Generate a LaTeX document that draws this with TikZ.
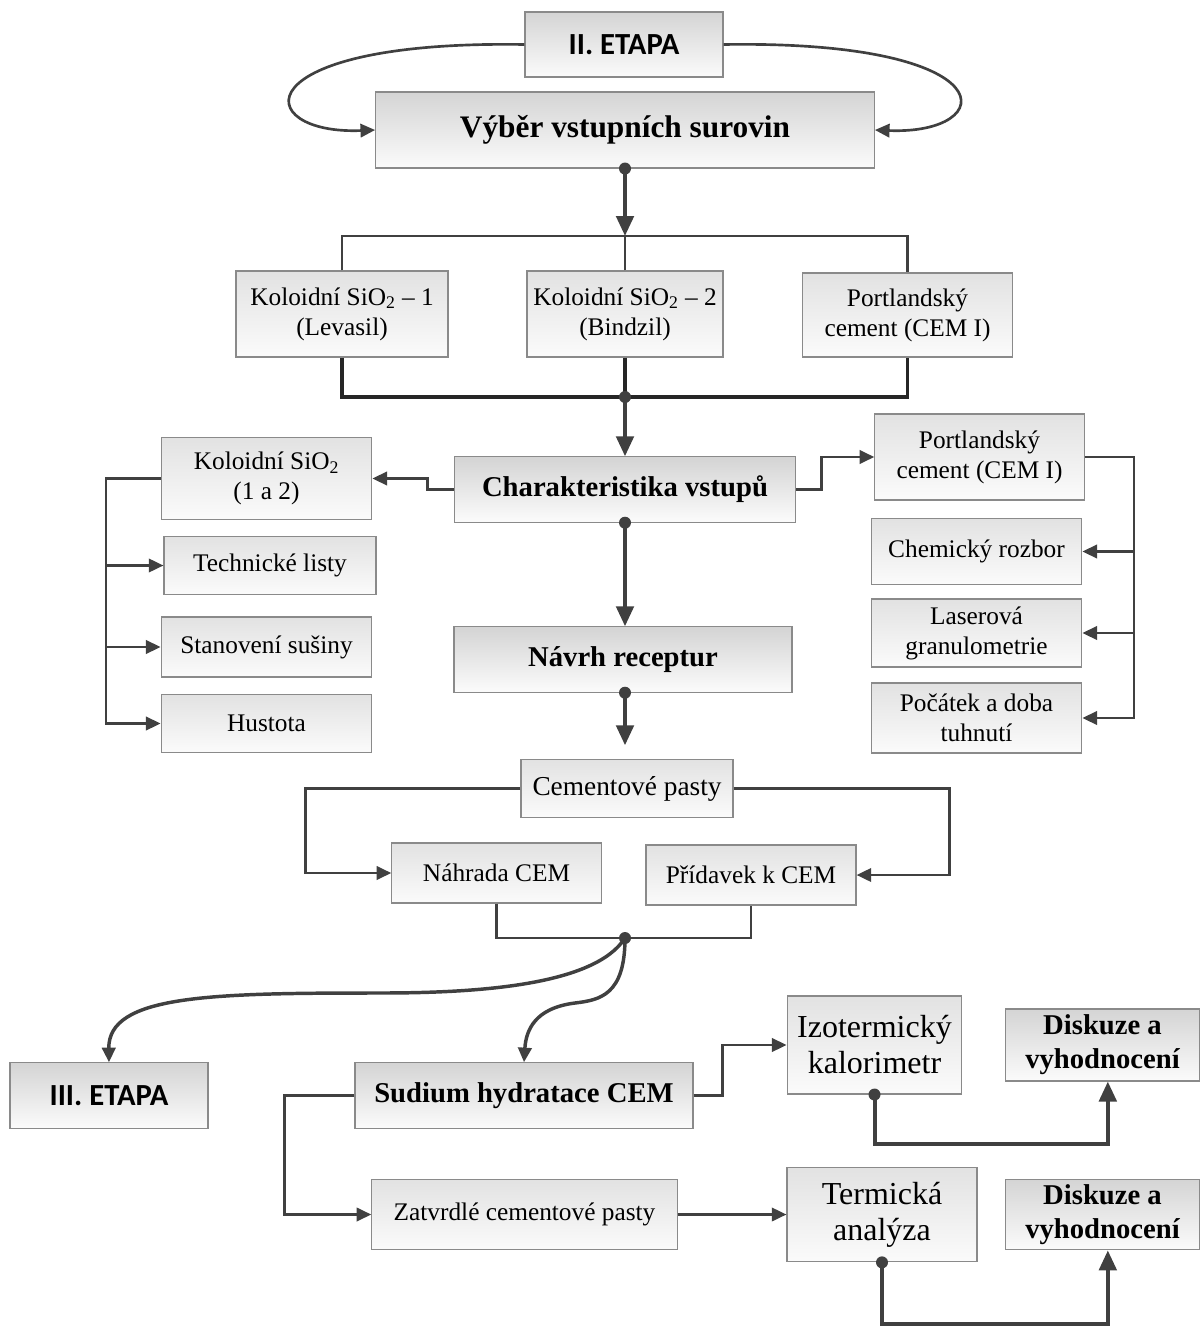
\documentclass[tikz,border=0pt]{standalone}
\usepackage{fontspec}
\setmainfont{Liberation Serif}
\newfontfamily\etapafont{Carlito}
\usepackage{tikz}
\usetikzlibrary{arrows.meta}
\usetikzlibrary{positioning}
\definecolor{linegray}{HTML}{404040}
\definecolor{boxgray}{HTML}{8A8A8A}
\definecolor{boxtop}{HTML}{E2E2E2}
\definecolor{titletop}{HTML}{D4D4D4}
\definecolor{boxbottom}{HTML}{FBFBFB}
\tikzstyle{plain_box} = [
    draw=boxgray, 
    line width=0.8pt, 
    top color=boxtop, 
    bottom color=boxbottom, 
    align=center, 
    inner sep=2pt, 
    font=\fontsize{19}{22.5}\selectfont
]
\tikzstyle{big_box} = [
    plain_box, 
    font=\fontsize{24}{27}\selectfont
]
\tikzstyle{title_box} = [
    plain_box, 
    top color=titletop, 
    font=\bfseries\fontsize{21.5}{25.5}\selectfont
]
\tikzstyle{etapa_box} = [
    title_box, 
    font=\etapafont\bfseries\fontsize{23}{27}\selectfont
]
\tikzstyle{link} = [
    draw=linegray, 
    line width=2pt
]
\tikzstyle{thick_link} = [
    draw=black!85, 
    line width=2.6pt
]
\tikzstyle{flow} = [
    link, 
    -{Triangle[length=11pt, width=10pt]}
]
\tikzstyle{thick_flow} = [
    link, 
    line width=3pt, 
    -{Triangle[length=15pt, width=13pt]}
]
\tikzstyle{dot} = [
    fill=linegray
]

\begin{document}
\begin{tikzpicture}[x=0.75pt, y=-0.75pt] % one unit = one pixel of the page
\useasboundingbox (0,0) rectangle (1199,1327);

% inputs
\node [etapa_box, minimum width=148.5pt, minimum height=48.75pt] (etapa2) at (624,44.5) {II. ETAPA};
\node [title_box, minimum width=374pt, minimum height=57pt, font=\bfseries\fontsize{23.5}{27}\selectfont] (vyber) at (625,130) {Výběr vstupních surovin};
\node [plain_box, minimum width=159pt, minimum height=64.5pt] (kol1) at (342,314) {Koloidní SiO\textsubscript{2} – 1\\(Levasil)};
\node [plain_box, minimum width=147pt, minimum height=64.5pt] (kol2) at (625,314) {Koloidní SiO\textsubscript{2} – 2\\(Bindzil)};
\node [plain_box, minimum width=158pt, minimum height=63pt] (port1) at (907.5,315) {Portlandský\\cement (CEM I)};

% characterisation
\node [title_box, minimum width=256pt, minimum height=49pt] (charak) at (625,489.5) {Charakteristika vstupů};
\node [plain_box, minimum width=158pt, minimum height=62pt] (kolc) at (266.5,478.5) {Koloidní SiO\textsubscript{2}\\(1 a 2)};
\node [plain_box, minimum width=159pt, minimum height=44pt] (tech) at (270,565.5) {Technické listy};
\node [plain_box, minimum width=158pt, minimum height=45pt] (stan) at (266.5,647) {Stanovení sušiny};
\node [plain_box, minimum width=158pt, minimum height=44pt] (hust) at (266.5,723.5) {Hustota};
\node [plain_box, minimum width=157pt, minimum height=64.5pt] (portc) at (979.5,457) {Portlandský\\cement (CEM I)};
\node [plain_box, minimum width=158pt, minimum height=49pt] (chem) at (976.5,551.5) {Chemický rozbor};
\node [plain_box, minimum width=158pt, minimum height=51pt] (laser) at (976.5,633) {Laserová\\granulometrie};
\node [plain_box, minimum width=158pt, minimum height=52.5pt] (pocatek) at (976.5,718) {Počátek a doba\\tuhnutí};

% pastes
\node [title_box, minimum width=253.5pt, minimum height=49pt] (navrh) at (623,659.5) {Návrh receptur};
\node [plain_box, minimum width=159pt, minimum height=44pt, font=\fontsize{20.5}{24}\selectfont] (pasty) at (627,788.5) {Cementové pasty};
\node [plain_box, minimum width=157pt, minimum height=45pt] (nahrada) at (496.5,873) {Náhrada CEM};
\node [plain_box, minimum width=157.5pt, minimum height=45pt] (pridavek) at (751,875) {Přídavek k CEM};
\coordinate (joint) at (625,938);

% hydration
\node [etapa_box, minimum width=148.5pt, minimum height=49pt] (etapa3) at (109,1095.5) {III. ETAPA};
\node [title_box, minimum width=253.5pt, minimum height=49pt] (sudium) at (524,1095.5) {Sudium hydratace CEM};
\node [plain_box, minimum width=229pt, minimum height=53pt] (zatvrdle) at (524.5,1214.5) {Zatvrdlé cementové pasty};
\node [big_box, minimum width=131pt, minimum height=73.5pt] (izoterm) at (874.5,1045) {Izotermický\\kalorimetr};
\node [big_box, minimum width=142.5pt, minimum height=71pt] (termic) at (882,1214.5) {Termická\\analýza};
\node [title_box, minimum width=145pt, minimum height=54pt] (disk1) at (1102.5,1045) {Diskuze a\\vyhodnocení};
\node [title_box, minimum width=145pt, minimum height=53pt] (disk2) at (1102.5,1214.5) {Diskuze a\\vyhodnocení};

% connectors
\draw [flow] (etapa2.west) .. controls (240,40) and (250,135) .. (vyber.west);
\draw [flow] (etapa2.east) .. controls (1010,40) and (1000,135) .. (vyber.east);

\coordinate (topbar) at (625,236);
\coordinate (botbar) at (625,397);
\draw [link] (kol1.north) |- (topbar) -| (port1.north);
\draw [link] (kol2.north) -- (topbar);
\fill [dot] (vyber.south) circle (4.5pt);
\draw [thick_flow] (vyber.south) -- (topbar);
\draw [thick_link] (kol1.south) |- (botbar) -| (port1.south);
\draw [thick_link] (kol2.south) -- (botbar);
\fill [dot] (botbar) circle (4.5pt);
\draw [thick_flow] (botbar) -- (charak.north);

\draw [flow] (charak.west) -- ++(-26,0) |- (kolc.east);
\draw [flow] (charak.east) -- ++(25,0) |- (portc.west);

\coordinate (lspine) at (106,0);
\coordinate (rspine) at (1134,0);
\draw [flow] (kolc.west) -- (kolc.west -| lspine) |- (hust.west);
\draw [flow] (tech.west -| lspine) -- (tech.west);
\draw [flow] (stan.west -| lspine) -- (stan.west);
\draw [flow] (portc.east) -- (portc.east -| rspine) |- (pocatek.east);
\draw [flow] (chem.east -| rspine) -- (chem.east);
\draw [flow] (laser.east -| rspine) -- (laser.east);

\fill [dot] (charak.south) circle (4.5pt);
\draw [thick_flow] (charak.south) -- (charak.south |- navrh.north);
\fill [dot] (charak.south |- navrh.south) circle (4.5pt);
\draw [thick_flow, shorten >=10pt] (charak.south |- navrh.south) -- (charak.south |- pasty.north);

\draw [flow] (pasty.west) -- ++(-215,0) |- (nahrada.west);
\draw [flow] (pasty.east) -- ++(216,0) |- (pridavek.east);
\draw [link] (nahrada.south) |- (joint) -| (pridavek.south);
\fill [dot] (joint) circle (4.5pt);
\draw [flow, line width=2.6pt] (joint) .. controls (595,985) and (480,993) .. (380,993)
    .. controls (210,993) and (108,995) .. (etapa3.north);
\draw [flow, line width=2.6pt] (joint) .. controls (625,995) and (600,1000) .. (575,1003)
    .. controls (535,1008) and (526,1030) .. (sudium.north);

\draw [flow] (sudium.east) -- ++(29,0) |- (izoterm.west);
\draw [flow] (sudium.west) -- ++(-70,0) |- (zatvrdle.west);
\draw [flow] (zatvrdle) -- (termic);
\fill [dot] (izoterm.south) circle (4.5pt);
\draw [thick_flow] (izoterm.south) -- ++(0,49) -| ([xshift=4pt]disk1.south);
\fill [dot] (termic.south) circle (4.5pt);
\draw [thick_flow] (termic.south) -- ++(0,62) -| ([xshift=4pt]disk2.south);
\end{tikzpicture}
\end{document}
